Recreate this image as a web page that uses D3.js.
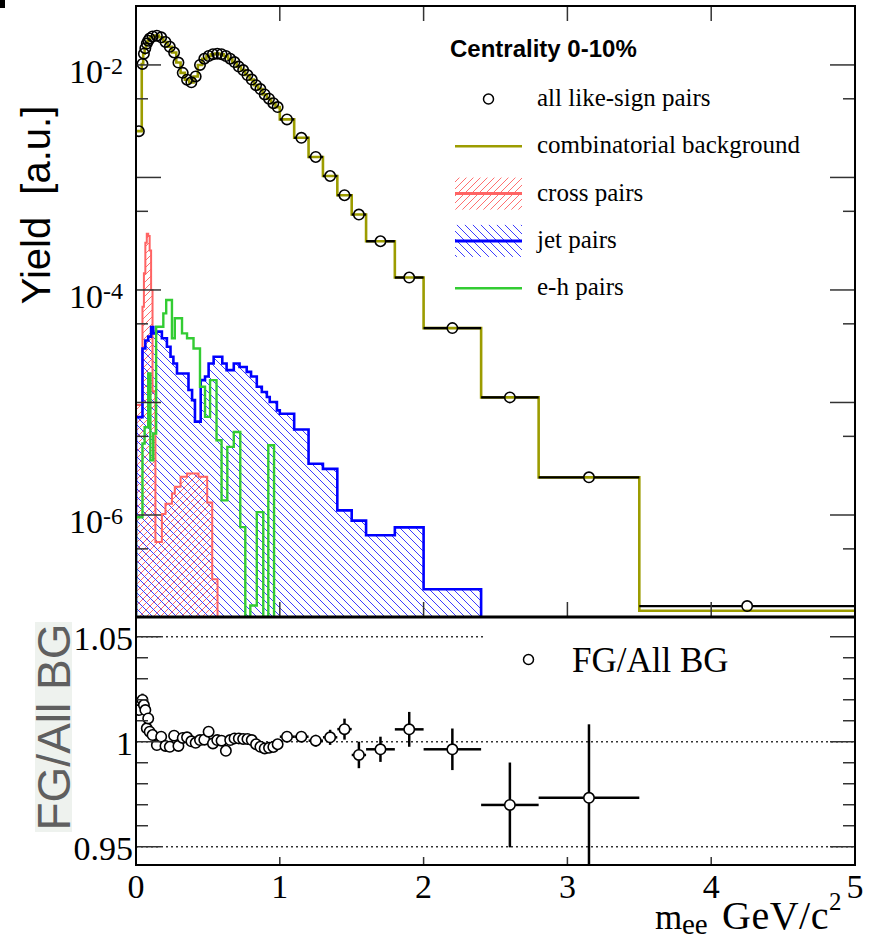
<!DOCTYPE html>
<html><head><meta charset="utf-8">
<script src="https://cdn.jsdelivr.net/npm/d3@7"></script>
<style>body{margin:0;background:#fff}svg{display:block}</style>
</head><body><svg id="c" width="869" height="941"></svg>
<script>
// ---------------- DATA ----------------
// bin edges (GeV/c^2) for the like-sign pairs / combinatorial background
const fgEdges = [0, 0.04, 0.05, 0.06, 0.07, 0.08, 0.09, 0.10, 0.13, 0.16, 0.19, 0.22, 0.25, 0.28, 0.31, 0.34, 0.37, 0.40, 0.43, 0.46, 0.49, 0.52, 0.55, 0.58, 0.61, 0.64, 0.67, 0.70, 0.73, 0.76, 0.79, 0.82, 0.85, 0.88, 0.91, 0.94, 0.97, 1.0, 1.1, 1.2, 1.3, 1.4, 1.5, 1.6, 1.8, 2.0, 2.4, 2.8, 3.5, 5.0];
// all like-sign pairs (points)
const fgYield = [2.58e-3, 1.02e-2, 1.26e-2, 1.41e-2, 1.55e-2, 1.64e-2, 1.72e-2, 1.79e-2, 1.82e-2, 1.76e-2, 1.60e-2, 1.45e-2, 1.29e-2, 1.05e-2, 8.5e-3, 7.4e-3, 7.0e-3, 7.9e-3, 1.0e-2, 1.135e-2, 1.20e-2, 1.245e-2, 1.26e-2, 1.245e-2, 1.20e-2, 1.135e-2, 1.06e-2, 9.66e-3, 9.0e-3, 8.13e-3, 7.41e-3, 6.61e-3, 6.10e-3, 5.47e-3, 5.01e-3, 4.57e-3, 4.22e-3, 3.28e-3, 2.25e-3, 1.52e-3, 1.03e-3, 6.95e-4, 4.68e-4, 2.71e-4, 1.29e-4, 4.58e-5, 1.11e-5, 2.16e-6, 1.55e-7];
// combinatorial background (olive histogram)
const bgYield = [2.58e-3, 1.02e-2, 1.26e-2, 1.41e-2, 1.55e-2, 1.64e-2, 1.72e-2, 1.79e-2, 1.82e-2, 1.76e-2, 1.60e-2, 1.45e-2, 1.29e-2, 1.05e-2, 8.5e-3, 7.4e-3, 7.0e-3, 7.9e-3, 1.0e-2, 1.135e-2, 1.20e-2, 1.245e-2, 1.26e-2, 1.245e-2, 1.20e-2, 1.135e-2, 1.06e-2, 9.66e-3, 9.0e-3, 8.13e-3, 7.41e-3, 6.61e-3, 6.10e-3, 5.47e-3, 5.01e-3, 4.57e-3, 4.22e-3, 3.28e-3, 2.25e-3, 1.52e-3, 1.03e-3, 6.95e-4, 4.68e-4, 2.71e-4, 1.29e-4, 4.58e-5, 1.11e-5, 2.16e-6, 1.41e-7];
// FG / All BG ratio and its errors (same bins)
const ratioVal = [1.0151, 1.0199, 1.0175, 1.0151, 1.0064, 1.0111, 1.0048, 1.0032, 0.9984, 1.0024, 0.9980, 0.9976, 1.0029, 0.9980, 1.0018, 1.0021, 1.0002, 0.9995, 1.0008, 1.0010, 1.0048, 0.9992, 1.0008, 1.0005, 0.9957, 1.0008, 1.0016, 1.0016, 1.0013, 1.0013, 1.0008, 0.9988, 0.9976, 0.9968, 0.9971, 0.9975, 0.9988, 1.0024, 1.0024, 1.0005, 1.0021, 1.0060, 0.9937, 0.9964, 1.0059, 0.9964, 0.9699, 0.9733, null];
const ratioErr = [0.002, 0.003, 0.002, 0.0015, 0.0015, 0.0015, 0.0015, 0.001, 0.001, 0.001, 0.001, 0.001, 0.001, 0.001, 0.001, 0.001, 0.001, 0.001, 0.001, 0.001, 0.001, 0.001, 0.001, 0.001, 0.001, 0.001, 0.001, 0.001, 0.001, 0.001, 0.001, 0.001, 0.001, 0.001, 0.001, 0.001, 0.001, 0.0015, 0.0018, 0.0028, 0.0036, 0.005, 0.0063, 0.006, 0.0083, 0.0099, 0.0202, 0.035, 0];
// cross pairs
const crossEdges = [0, 0.045, 0.055, 0.065, 0.075, 0.085, 0.095, 0.105, 0.115, 0.135, 0.18, 0.205, 0.25, 0.27, 0.31, 0.355, 0.435, 0.495, 0.53, 0.567];
const crossYield = [9.5e-6, 7.1e-5, 1.41e-4, 2.63e-4, 3.16e-4, 3.02e-4, 2.24e-4, 1.0e-4, 1.26e-5, 5.75e-7, 1.02e-6, 1.26e-6, 1.55e-6, 1.78e-6, 2.19e-6, 2.34e-6, 2.19e-6, 1.29e-6, 2.69e-7];
// jet pairs
const jetEdges = [0, 0.045, 0.065, 0.085, 0.105, 0.12, 0.14, 0.18, 0.215, 0.24, 0.26, 0.285, 0.365, 0.39, 0.41, 0.45, 0.48, 0.505, 0.54, 0.6, 0.63, 0.68, 0.72, 0.77, 0.80, 0.84, 0.875, 0.91, 0.93, 0.98, 1.0, 1.1, 1.2, 1.3, 1.4, 1.5, 1.6, 1.8, 2.0, 2.4];
const jetYield = [7.41e-6, 3.02e-5, 3.55e-5, 3.85e-5, 4.68e-5, 4.11e-5, 4.26e-5, 3.72e-5, 3.13e-5, 2.55e-5, 2.22e-5, 1.81e-5, 1.29e-5, 1.05e-5, 6.76e-6, 1.58e-5, 1.70e-5, 2.22e-5, 2.55e-5, 2.22e-5, 1.94e-5, 2.22e-5, 2.07e-5, 1.87e-5, 1.70e-5, 1.38e-5, 1.24e-5, 1.12e-5, 1.01e-5, 8.51e-6, 7.94e-6, 5.75e-6, 2.85e-6, 2.57e-6, 1.10e-6, 8.91e-7, 6.61e-7, 7.76e-7, 2.19e-7];
// e-h pairs
const ehEdges = [0, 0.045, 0.06, 0.085, 0.10, 0.12, 0.14, 0.19, 0.21, 0.25, 0.27, 0.32, 0.355, 0.40, 0.445, 0.48, 0.515, 0.56, 0.595, 0.635, 0.68, 0.725, 0.76, 0.795, 0.84, 0.885, 0.92, 0.96];
const ehYield = [9.55e-7, 4.32e-6, 6.03e-6, 1.81e-5, 3.06e-6, 5.30e-6, 4.71e-5, 6.19e-5, 8.15e-5, 3.72e-5, 5.60e-5, 4.11e-5, 3.72e-5, 3.02e-5, 1.38e-5, 7.45e-6, 1.58e-5, 4.61e-6, 1.35e-6, 4.03e-6, 5.47e-6, 7.80e-7, 3.0e-8, 1.57e-7, 1.06e-6, 3.0e-8, 4.17e-6];
// ticks and labels
const xTickValues = [0, 1, 2, 3, 4, 5];
const xTickLabels = ["0", "1", "2", "3", "4", "5"];
const yTopDecades = [1e-6, 1e-5, 1e-4, 1e-3, 1e-2];
const yTopHalves = [5e-7, 5e-6, 5e-5, 5e-4, 5e-3];
const yTopLabelVals = [1e-2, 1e-4, 1e-6];
const yTopLabelExps = ["-2", "-4", "-6"];
const ratioMajor = [0.95, 1.0, 1.05];
const ratioMajorLabels = ["0.95", "1", "1.05"];
const ratioMinor = [0.96, 0.97, 0.98, 0.99, 1.01, 1.02, 1.03, 1.04];
const ratioGrid = [0.95, 1.0, 1.05];
const legendTitle = "Centrality 0-10%";
const legendLabels = ["all like-sign pairs", "combinatorial background", "cross pairs", "jet pairs", "e-h pairs"];
const ratioLegendLabel = "FG/All BG";

// ---------------- STYLE ----------------
const OLIVE = "#9c9c00", RED = "#ff6464", BLUE = "#0000ff", GREEN = "#33cc33";
const SERIF = "'Liberation Serif','Times New Roman',serif";
const SANS = "'Liberation Sans',Arial,sans-serif";

const svg = d3.select("#c");
const L = 136, R = 855, T = 6, B1 = 617, B2 = 865;
const x = d3.scaleLinear().domain([0, 5]).range([L, R]);
const yT = d3.scaleLog().domain([1.24e-7, 3.34e-2]).range([B1, T]).clamp(true);
const yR = d3.scaleLinear().domain([0.9413, 1.0594]).range([B2, B1]);

svg.append("rect").attr("x", 0).attr("y", 0).attr("width", 869).attr("height", 941).attr("fill", "#fff");
svg.append("rect").attr("x", 0).attr("y", 0).attr("width", 5).attr("height", 8).attr("fill", "#000");

const defs = svg.append("defs");
defs.append("clipPath").attr("id", "clipTop").append("rect").attr("x", L).attr("y", T).attr("width", R - L).attr("height", B1 - T);
defs.append("clipPath").attr("id", "clipBot").append("rect").attr("x", L).attr("y", B1).attr("width", R - L).attr("height", B2 - B1);
function hatch(id, color, s, d) {
  defs.append("pattern").attr("id", id).attr("patternUnits", "userSpaceOnUse").attr("width", s).attr("height", s)
    .append("path").attr("d", d).attr("stroke", color).attr("stroke-width", 1).attr("fill", "none");
}
hatch("hRed", "#ff7070", 7, "M0,7L7,0M-1,1L1,-1M6,8L8,6");
hatch("hBlue", "#3c3cff", 8, "M0,0L8,8M-1,7L1,9M7,-1L9,1");

const line = d3.line();
function stepPts(edges, vals) {
  const pts = [];
  vals.forEach((v, i) => { pts.push([x(edges[i]), yT(v)]); pts.push([x(edges[i + 1]), yT(v)]); });
  return pts;
}
const gTop = svg.append("g").attr("clip-path", "url(#clipTop)");
function drawHist(edges, vals, fillId) {
  const pts = stepPts(edges, vals);
  const closed = [[x(edges[0]), B1], ...pts, [x(edges[edges.length - 1]), B1]];
  if (fillId) gTop.append("path").attr("d", line(closed) + "Z").attr("fill", `url(#${fillId})`).attr("stroke", "none");
  return closed;
}
const redPts = drawHist(crossEdges, crossYield, "hRed");
const bluePts = drawHist(jetEdges, jetYield, "hBlue");
const greenPts = drawHist(ehEdges, ehYield, null);
gTop.append("path").attr("d", line(redPts)).attr("fill", "none").attr("stroke", RED).attr("stroke-width", 2);
gTop.append("path").attr("d", line(bluePts)).attr("fill", "none").attr("stroke", BLUE).attr("stroke-width", 2.6);
gTop.append("path").attr("d", line(greenPts)).attr("fill", "none").attr("stroke", GREEN).attr("stroke-width", 2.4);
// combinatorial background
gTop.append("path").attr("d", line(stepPts(fgEdges, bgYield))).attr("fill", "none").attr("stroke", OLIVE).attr("stroke-width", 2.6);

// points with bin-width bars
const MR = 5.2;
const centers = fgYield.map((v, i) => (fgEdges[i] + fgEdges[i + 1]) / 2);
fgYield.forEach((v, i) => {
  const cx = x(centers[i]), cy = yT(v), xl = x(fgEdges[i]), xr = x(fgEdges[i + 1]);
  if (cx - MR > xl) gTop.append("line").attr("x1", xl).attr("x2", cx - MR).attr("y1", cy).attr("y2", cy).attr("stroke", "#000").attr("stroke-width", 2.4);
  if (xr > cx + MR) gTop.append("line").attr("x1", cx + MR).attr("x2", xr).attr("y1", cy).attr("y2", cy).attr("stroke", "#000").attr("stroke-width", 2.4);
});
gTop.selectAll("circle.fg").data(fgYield).enter().append("circle")
  .attr("cx", (d, i) => x(centers[i])).attr("cy", d => yT(d)).attr("r", MR)
  .attr("fill", "none").attr("stroke", "#000").attr("stroke-width", 1.6);

// ---------- ratio panel ----------
const gBot = svg.append("g").attr("clip-path", "url(#clipBot)");
ratioGrid.forEach(v => {
  gBot.append("line").attr("x1", L).attr("x2", R).attr("y1", yR(v)).attr("y2", yR(v))
    .attr("stroke", "#333").attr("stroke-width", 1.4).attr("stroke-dasharray", "2,3");
});
// legend box (white) in ratio panel
gBot.append("rect").attr("x", 485).attr("y", 622).attr("width", R - 485).attr("height", 78).attr("fill", "#fff");
ratioVal.forEach((v, i) => {
  if (v === null) return;
  const cx = x(centers[i]), cy = yR(v), xl = x(fgEdges[i]), xr = x(fgEdges[i + 1]);
  const yt = yR(v + ratioErr[i]), yb = yR(v - ratioErr[i]);
  const st = (a, b, c, d) => gBot.append("line").attr("x1", a).attr("x2", b).attr("y1", c).attr("y2", d).attr("stroke", "#000").attr("stroke-width", 2.5);
  if (cx - MR > xl) st(xl, cx - MR, cy, cy);
  if (xr > cx + MR) st(cx + MR, xr, cy, cy);
  if (yt < cy - MR) st(cx, cx, yt, cy - MR);
  if (yb > cy + MR) st(cx, cx, cy + MR, yb);
});
gBot.selectAll("circle.r").data(ratioVal.map((v, i) => ({ v, i })).filter(d => d.v !== null)).enter().append("circle")
  .attr("cx", d => x(centers[d.i])).attr("cy", d => yR(d.v)).attr("r", MR)
  .attr("fill", "#fff").attr("stroke", "#000").attr("stroke-width", 1.6);

// ---------- ticks ----------
const tk = svg.append("g").attr("stroke", "#333").attr("stroke-width", 1.5);
function hTick(y, len) {
  tk.append("line").attr("x1", L).attr("x2", L + len).attr("y1", y).attr("y2", y);
  tk.append("line").attr("x1", R - len).attr("x2", R).attr("y1", y).attr("y2", y);
}
yTopDecades.forEach(v => hTick(yT(v), 25));
yTopHalves.forEach(v => hTick(yT(v), 12));
ratioMajor.forEach(v => hTick(yR(v), 25));
ratioMinor.forEach(v => hTick(yR(v), 12));
xTickValues.filter(v => v > 0 && v < 5).forEach(v => {
  tk.append("line").attr("x1", x(v)).attr("x2", x(v)).attr("y1", T).attr("y2", T + 15);
  tk.append("line").attr("x1", x(v)).attr("x2", x(v)).attr("y1", B1 - 15).attr("y2", B1);
  tk.append("line").attr("x1", x(v)).attr("x2", x(v)).attr("y1", B2 - 8).attr("y2", B2);
});

// ---------- frames ----------
svg.append("rect").attr("x", L).attr("y", T).attr("width", R - L).attr("height", B2 - T).attr("fill", "none").attr("stroke", "#000").attr("stroke-width", 2);
svg.append("line").attr("x1", L).attr("x2", R).attr("y1", B1).attr("y2", B1).attr("stroke", "#000").attr("stroke-width", 3);

// ---------- tick labels ----------
yTopLabelVals.forEach((v, i) => {
  const y = yT(v);
  svg.append("text").attr("x", 103).attr("y", y + 18).attr("text-anchor", "end").attr("font-family", SERIF).attr("font-size", 34).text("10");
  svg.append("text").attr("x", 103).attr("y", y + 9).attr("text-anchor", "start").attr("font-family", SERIF).attr("font-size", 24).text(yTopLabelExps[i]);
});
ratioMajor.forEach((v, i) => {
  svg.append("text").attr("x", 133).attr("y", yR(v) + 13).attr("text-anchor", "end").attr("font-family", SERIF).attr("font-size", 34).text(ratioMajorLabels[i]);
});
xTickValues.forEach((v, i) => {
  svg.append("text").attr("x", x(v)).attr("y", 898).attr("text-anchor", "middle").attr("font-family", SERIF).attr("font-size", 34).text(xTickLabels[i]);
});

// ---------- axis titles ----------
svg.append("text").attr("transform", "translate(50,205) rotate(-90)").attr("text-anchor", "middle")
  .attr("font-family", SANS).attr("font-size", 40).attr("fill", "#000").style("white-space", "pre").text("Yield  [a.u.]");
svg.append("rect").attr("x", 35).attr("y", 622).attr("width", 37).attr("height", 210).attr("fill", "#eef2ee");
svg.append("text").attr("transform", "translate(70,727) rotate(-90)").attr("text-anchor", "middle")
  .attr("font-family", SANS).attr("font-size", 46).attr("fill", "#5f5f5f").text("FG/All BG");
const xt = svg.append("g").attr("font-family", SERIF).attr("fill", "#000");
xt.append("text").attr("x", 655).attr("y", 929).attr("font-size", 35).text("m");
xt.append("text").attr("x", 682).attr("y", 934).attr("font-size", 29).text("ee");
xt.append("text").attr("x", 722).attr("y", 929).attr("font-size", 40).attr("letter-spacing", 0.5).text("GeV/c");
xt.append("text").attr("x", 829).attr("y", 910).attr("font-size", 25).text("2");

// ---------- legend (top) ----------
svg.append("text").attr("x", 450).attr("y", 57).attr("font-family", SANS).attr("font-weight", "bold").attr("font-size", 24).text(legendTitle);
const lg = svg.append("g");
const symX0 = 455, symX1 = 522, textX = 537, row0 = 99, rowStep = 47.3;
legendLabels.forEach((lab, i) => {
  const cy = row0 + i * rowStep;
  lg.append("text").attr("x", textX).attr("y", cy + 7).attr("font-family", SERIF).attr("font-size", 25).text(lab);
  if (i === 0) lg.append("circle").attr("cx", 488.5).attr("cy", cy).attr("r", 5).attr("fill", "none").attr("stroke", "#000").attr("stroke-width", 1.5);
  if (i === 1) lg.append("line").attr("x1", symX0).attr("x2", symX1).attr("y1", cy).attr("y2", cy).attr("stroke", OLIVE).attr("stroke-width", 2.6);
  if (i === 2 || i === 3) {
    lg.append("rect").attr("x", symX0).attr("y", cy - 16).attr("width", symX1 - symX0).attr("height", 32).attr("fill", i === 2 ? "url(#hRed)" : "url(#hBlue)");
    lg.append("line").attr("x1", symX0).attr("x2", symX1).attr("y1", cy).attr("y2", cy).attr("stroke", i === 2 ? RED : BLUE).attr("stroke-width", 3);
  }
  if (i === 4) lg.append("line").attr("x1", symX0).attr("x2", symX1).attr("y1", cy).attr("y2", cy).attr("stroke", GREEN).attr("stroke-width", 2.6);
});
// ratio legend
svg.append("circle").attr("cx", 528.5).attr("cy", 659.5).attr("r", 5).attr("fill", "#fff").attr("stroke", "#000").attr("stroke-width", 1.5);
svg.append("text").attr("x", 572).attr("y", 672).attr("font-family", SERIF).attr("font-size", 35).text(ratioLegendLabel);
</script></body></html>
